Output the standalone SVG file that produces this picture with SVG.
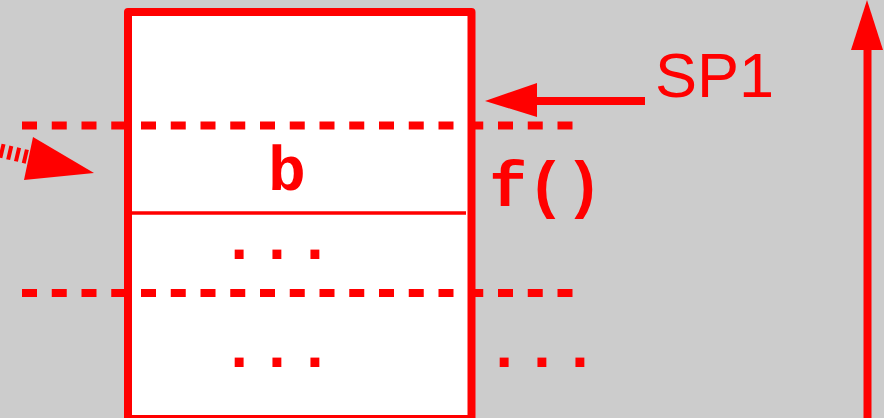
<svg xmlns="http://www.w3.org/2000/svg" width="884" height="418" viewBox="0 0 884 418">
<style>
.mono{font-family:"Liberation Mono","Courier New",monospace;font-weight:bold;font-size:63px;fill:#ff0000;text-anchor:middle}
.sans{font-family:"Liberation Sans",Arial,sans-serif;font-size:63px;fill:#ff0000}
.dash{stroke:#ff0000;stroke-width:8;stroke-dasharray:15 14.75;fill:none}
.ln{stroke:#ff0000;fill:none}
.head{fill:#ff0000}
</style>
<rect x="0" y="0" width="884" height="418" fill="#cccccc"/>
<g id="frame">
<rect x="128" y="12" width="343.5" height="407" fill="#ffffff" stroke="#ff0000" stroke-width="8" stroke-linejoin="round"/>
<line class="ln" x1="130" y1="213" x2="466" y2="213" stroke-width="3.5"/>
<text class="mono" x="287" y="190">b</text>
<text class="mono" x="277" y="259">...</text>
<text class="mono" x="277" y="367">...</text>
</g>
<g id="labels">
<text class="mono" x="546" y="206">f()</text>
<text class="mono" x="542" y="367">...</text>
<text class="sans" x="655" y="97">SP1</text>
</g>
<g id="connectors">
<line class="dash" x1="22" y1="125.5" x2="573" y2="125.5"/>
<line class="dash" x1="22" y1="293" x2="573" y2="293"/>
<line class="ln" x1="0" y1="150.5" x2="30" y2="157.5" stroke-width="14" stroke-dasharray="4 4"/>
<polygon class="head" points="94,173 33,137 24,180"/>
<line class="ln" x1="645" y1="101" x2="530" y2="101" stroke-width="8"/>
<polygon class="head" points="485,101 537,83 537,117"/>
<line class="ln" x1="867.5" y1="45" x2="867.5" y2="418" stroke-width="8"/>
<polygon class="head" points="867,0 851,50 883,50"/>
</g>
</svg>
